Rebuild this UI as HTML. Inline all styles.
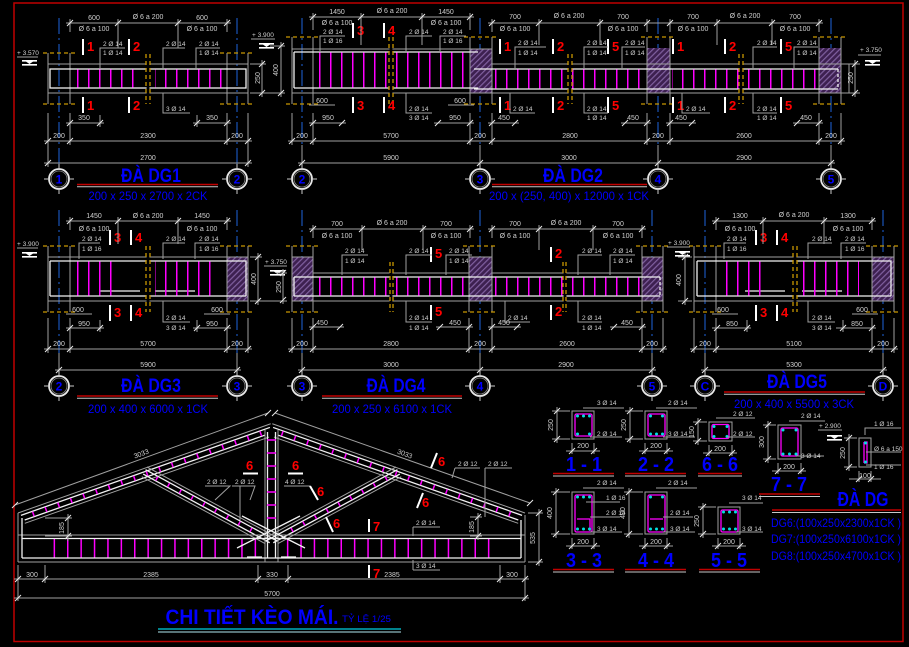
<!DOCTYPE html>
<html><head><meta charset="utf-8"><style>
html,body{margin:0;padding:0;background:#000}
svg{display:block}
svg text{font-family:"Liberation Sans",sans-serif}
.g{stroke:#a0a0a0;stroke-width:1;fill:none}
.w{stroke:#f2f2f2;stroke-width:1.3;fill:none}
.m{stroke:#ff00ff;stroke-width:1.4;fill:none}
.y{stroke:#c89600;stroke-width:1.3;stroke-dasharray:4 3;fill:none}
.ax{stroke:#1e64dc;stroke-width:1;stroke-dasharray:16 4 2 4;fill:none}
.tk{stroke:#e8e8e8;stroke-width:1;fill:none}
.sb{stroke:#fff;stroke-width:2;fill:none}
.d{fill:#d0d0d0;font-size:7px;text-anchor:middle}
.l{fill:#d0d0d0;font-size:6.5px}
.r{fill:#ff0000;font-size:13px;font-weight:bold}
.b{fill:#0000ff;font-weight:bold;text-anchor:middle}
.n{fill:#0000ff;font-size:12px;font-weight:bold;text-anchor:middle}
.s{fill:#0000ff;font-size:12px;text-anchor:middle}
.ru{stroke:#c00000;stroke-width:1.6}
.gu{stroke:#c8c8c8;stroke-width:1}
.pk{stroke:#ff00ff;stroke-width:1.3;fill:none}
.cy{fill:#00e0e0}
</style></head><body>
<svg width="909" height="647" viewBox="0 0 909 647" xmlns="http://www.w3.org/2000/svg">
<defs>
<pattern id="st" width="11" height="8" patternUnits="userSpaceOnUse"><rect width="1.5" height="8" fill="#ff00ff"/></pattern>
<pattern id="sc" width="13.4" height="8" patternUnits="userSpaceOnUse"><rect width="1.5" height="8" fill="#ff00ff"/></pattern>
<pattern id="hh" width="4" height="4" patternUnits="userSpaceOnUse" patternTransform="rotate(45)"><rect width="4" height="4" fill="#3d2050"/><rect width="1.2" height="4" fill="#8060a0"/></pattern>
<g id="ci"><circle r="10" fill="#000" stroke="#e8e8e8" stroke-width="1.8"/><circle r="8" fill="none" stroke="#888" stroke-width=".8"/><path stroke="#ccc" d="M-15 0h5M10 0h5M0 -15v5M0 10v5"/></g>
<g id="lv"><path fill="#fff" d="M0 0h15v1.6H0zM4 1.6h7l-3.5 2.4zM0 4h15v1.6H0z"/></g>
</defs>
<rect width="909" height="647" fill="#000"/>
<rect x="14" y="3" width="889" height="638.5" fill="none" stroke="#c00000" stroke-width="1.5"/>

<!-- ================= DG1 ================= -->
<path class="ax" d="M59 18V170M237 18V170"/>
<path class="g" d="M48 53V104M70 53V104M227 53V104M248 53V104M48 64H248M48 93H248"/>
<rect class="w" x="50" y="69" width="196" height="19"/>
<rect fill="url(#st)" x="72" y="69.5" width="70" height="18"/>
<rect fill="url(#st)" x="155" y="69.5" width="71" height="18"/>
<rect fill="#000" x="146.6" y="58" width="2.8" height="42"/>
<path class="y" d="M43 53H77M43 104H77M220 53H254M220 104H254M146 54V104M150 54V104"/>
<path class="sb" d="M83 39V55M83 97V113M129 39V55M129 97V113"/>
<text class="r" x="87" y="51">1</text><text class="r" x="87" y="110">1</text>
<text class="r" x="133" y="51">2</text><text class="r" x="133" y="110">2</text>
<path class="g" d="M66 23H231M70 19V32M118 19V48M178 19V48M227 19V32"/>
<path class="tk" d="M67 26l6-6M115 26l6-6M175 26l6-6M224 26l6-6"/>
<text class="d" x="94" y="20">600</text><text class="d" x="148" y="19">Ø 6 a 200</text><text class="d" x="202" y="20">600</text>
<text class="d" x="94" y="31">Ø 6 a 100</text><text class="d" x="202" y="31">Ø 6 a 100</text>
<path class="g" d="M100 68V48H125M163 68V48H185M196 68V48H220M163 93V113H190"/>
<text class="l" x="103" y="46">2 Ø 14</text><text class="l" x="103" y="55">1 Ø 14</text>
<text class="l" x="166" y="46">2 Ø 14</text>
<text class="l" x="199" y="46">2 Ø 14</text><text class="l" x="199" y="55">1 Ø 14</text>
<text class="l" x="166" y="111">3 Ø 14</text>
<text class="l" x="17" y="55">+ 3.570</text><path class="g" d="M17 57H38"/><use href="#lv" x="22" y="60"/>
<text class="l" x="252" y="37">+ 3.900</text><path class="g" d="M251 39H275"/><use href="#lv" x="259" y="43"/>
<path class="g" d="M262 60V97M281 42V97M250 64H266M250 93H285M270 46H285"/>
<path class="tk" d="M259 67l6-6M259 96l6-6M278 49l6-6M278 96l6-6"/>
<text class="d" transform="translate(260,78) rotate(-90)">250</text>
<text class="d" transform="translate(278,70) rotate(-90)">400</text>
<path class="g" d="M66 123H104M193 123H231M44 141H252M44 163H252M48 113V167M70 113V145M227 113V145M248 113V167M100 115V127M197 115V127"/>
<path class="tk" d="M67 126l6-6M97 126l6-6M194 126l6-6M224 126l6-6M45 144l6-6M67 144l6-6M224 144l6-6M245 144l6-6M45 166l6-6M245 166l6-6"/>
<text class="d" x="84" y="120">350</text><text class="d" x="212" y="120">350</text>
<text class="d" x="59" y="138">200</text><text class="d" x="148" y="138">2300</text><text class="d" x="237" y="138">200</text>
<text class="d" x="148" y="160">2700</text>
<use href="#ci" x="59" y="179"/><use href="#ci" x="237" y="179"/>
<text class="n" x="59" y="183.5">1</text><text class="n" x="237" y="183.5">2</text>
<text class="b" x="151" y="182" font-size="19" textLength="60" lengthAdjust="spacingAndGlyphs">ĐÀ DG1</text>
<path class="ru" d="M77 184.5H218"/><path class="gu" d="M77 186.7H218"/>
<text class="s" x="148" y="200" textLength="119" lengthAdjust="spacingAndGlyphs">200 x 250 x 2700 x 2CK</text>

<!-- ================= DG2 ================= -->
<path class="ax" d="M302 18V170M480 18V170M658 18V170M831 18V170"/>
<rect fill="url(#hh)" x="470" y="49" width="22" height="44"/>
<rect fill="url(#hh)" x="647" y="48" width="23" height="45"/>
<rect fill="url(#hh)" x="819" y="48" width="22" height="45"/>
<path class="g" d="M292 37V104M313 37V104M470 37V104M492 37V104M647 37V104M670 37V104M819 37V104M841 37V104M292 49H492M292 93H849M492 64H849M849 64V93"/>
<path class="w" d="M294 52H478M294 52V88M294 88H478M474 69H838M474 89H838"/>
<path class="w" stroke-dasharray="3 2" d="M838 69V89"/>
<rect fill="url(#st)" x="316" y="52.5" width="152" height="35"/>
<rect fill="url(#st)" x="493" y="69.5" width="152" height="19"/>
<rect fill="url(#st)" x="672" y="69.5" width="146" height="19"/>
<rect fill="#000" x="389.6" y="45" width="2.8" height="55"/>
<rect fill="#000" x="568.6" y="58" width="2.8" height="42"/>
<rect fill="#000" x="739.6" y="58" width="2.8" height="42"/>
<path class="y" d="M286 37H318M286 104H318M464 37H498M464 104H498M641 37H676M641 104H676M813 37H847M813 104H847M389 37V104M393 37V104M568 54V104M572 54V104M739 54V104M743 54V104"/>
<path class="sb" d="M353 23V38M353 97V113M384 23V38M384 97V113M500 39V54M500 97V113M553 39V54M553 97V113M608 39V54M608 97V113M673 39V54M673 97V113M725 39V54M725 97V113M781 39V54M781 97V113"/>
<text class="r" x="357" y="35">3</text><text class="r" x="357" y="110">3</text>
<text class="r" x="388" y="35">4</text><text class="r" x="388" y="110">4</text>
<text class="r" x="504" y="51">1</text><text class="r" x="504" y="110">1</text>
<text class="r" x="557" y="51">2</text><text class="r" x="557" y="110">2</text>
<text class="r" x="612" y="51">5</text><text class="r" x="612" y="110">5</text>
<text class="r" x="677" y="51">1</text><text class="r" x="677" y="110">1</text>
<text class="r" x="729" y="51">2</text><text class="r" x="729" y="110">2</text>
<text class="r" x="785" y="51">5</text><text class="r" x="785" y="110">5</text>
<path class="g" d="M309 17H474M313 13V30M361 13V45M422 13V45M470 13V30M488 23H823M492 19V32M539 19V45M600 19V45M647 19V32M670 19V32M717 19V45M772 19V45M819 19V32"/>
<path class="tk" d="M310 20l6-6M358 20l6-6M419 20l6-6M467 20l6-6M489 26l6-6M536 26l6-6M597 26l6-6M644 26l6-6M667 26l6-6M714 26l6-6M769 26l6-6M816 26l6-6"/>
<text class="d" x="337" y="14">1450</text><text class="d" x="392" y="13">Ø 6 a 200</text><text class="d" x="446" y="14">1450</text>
<text class="d" x="337" y="25">Ø 6 a 100</text><text class="d" x="446" y="25">Ø 6 a 100</text>
<text class="d" x="515" y="19">700</text><text class="d" x="569" y="18">Ø 6 a 200</text><text class="d" x="623" y="19">700</text>
<text class="d" x="693" y="19">700</text><text class="d" x="745" y="18">Ø 6 a 200</text><text class="d" x="795" y="19">700</text>
<text class="d" x="515" y="31">Ø 6 a 100</text><text class="d" x="623" y="31">Ø 6 a 100</text><text class="d" x="693" y="31">Ø 6 a 100</text><text class="d" x="795" y="31">Ø 6 a 100</text>
<path class="g" d="M320 51V36H345M406 51V36H432M440 51V36H466M515 68V47H546M584 68V47H608M622 68V47H645M753 68V47H777M794 68V47H818M406 93V113H432M510 93V113H535M584 93V113H608M682 93V113H710M753 93V113H777"/>
<text class="l" x="323" y="34">2 Ø 14</text><text class="l" x="323" y="43">1 Ø 16</text>
<text class="l" x="409" y="34">2 Ø 14</text>
<text class="l" x="443" y="34">2 Ø 14</text><text class="l" x="443" y="43">1 Ø 16</text>
<text class="l" x="518" y="45">2 Ø 14</text><text class="l" x="518" y="55">1 Ø 14</text>
<text class="l" x="587" y="45">2 Ø 14</text><text class="l" x="587" y="55">1 Ø 14</text>
<text class="l" x="625" y="45">2 Ø 14</text><text class="l" x="625" y="55">1 Ø 14</text>
<text class="l" x="757" y="45">2 Ø 14</text>
<text class="l" x="797" y="45">2 Ø 14</text><text class="l" x="797" y="55">1 Ø 14</text>
<text class="l" x="409" y="111">2 Ø 14</text><text class="l" x="409" y="120">3 Ø 14</text>
<text class="l" x="513" y="111">2 Ø 14</text>
<text class="l" x="587" y="111">2 Ø 14</text><text class="l" x="587" y="120">1 Ø 14</text>
<text class="l" x="686" y="111">2 Ø 14</text>
<text class="l" x="757" y="111">2 Ø 14</text><text class="l" x="757" y="120">1 Ø 14</text>
<path class="g" d="M309 105H335M448 105H474"/>
<text class="d" x="322" y="103">600</text><text class="d" x="460" y="103">600</text>
<path class="g" d="M309 123H346M434 123H474M488 123H519M621 123H651M666 123H696M793 123H823M288 141H845M298 163H835M292 113V145M313 113V145M470 113V145M492 113V145M647 113V145M670 113V145M819 113V145M841 113V145M302 145V167M480 145V167M658 145V167M831 145V167"/>
<path class="tk" d="M310 126l6-6M339 126l6-6M435 126l6-6M467 126l6-6M489 126l6-6M512 126l6-6M622 126l6-6M644 126l6-6M667 126l6-6M689 126l6-6M794 126l6-6M816 126l6-6M289 144l6-6M310 144l6-6M467 144l6-6M489 144l6-6M644 144l6-6M667 144l6-6M816 144l6-6M838 144l6-6M299 166l6-6M477 166l6-6M655 166l6-6M828 166l6-6"/>
<text class="d" x="328" y="120">950</text><text class="d" x="455" y="120">950</text><text class="d" x="504" y="120">450</text><text class="d" x="633" y="120">450</text><text class="d" x="681" y="120">450</text><text class="d" x="806" y="120">450</text>
<text class="d" x="302" y="138">200</text><text class="d" x="391" y="138">5700</text><text class="d" x="480" y="138">200</text><text class="d" x="570" y="138">2800</text><text class="d" x="658" y="138">200</text><text class="d" x="744" y="138">2600</text><text class="d" x="831" y="138">200</text>
<text class="d" x="391" y="160">5900</text><text class="d" x="569" y="160">3000</text><text class="d" x="744" y="160">2900</text>
<text class="l" x="860" y="52">+ 3.750</text><path class="g" d="M858 55H881"/><use href="#lv" x="865" y="60"/>
<path class="g" d="M855 60V97M845 64H860M845 93H860"/><path class="tk" d="M852 67l6-6M852 96l6-6"/>
<text class="d" transform="translate(853,78) rotate(-90)">250</text>
<use href="#ci" x="302" y="179"/><use href="#ci" x="480" y="179"/><use href="#ci" x="658" y="179"/><use href="#ci" x="831" y="179"/>
<text class="n" x="302" y="183.5">2</text><text class="n" x="480" y="183.5">3</text><text class="n" x="658" y="183.5">4</text><text class="n" x="831" y="183.5">5</text>
<text class="b" x="573" y="182" font-size="19" textLength="60" lengthAdjust="spacingAndGlyphs">ĐÀ DG2</text>
<path class="ru" d="M492 184.5H647"/><path class="gu" d="M492 186.7H647"/>
<text class="s" x="569" y="200" textLength="160" lengthAdjust="spacingAndGlyphs">200 x (250, 400) x 12000 x 1CK</text>

<!-- ================= DG3 ================= -->
<path class="ax" d="M59 210V377M237 210V377"/>
<rect fill="url(#hh)" x="227" y="257" width="21" height="44"/>
<path class="g" d="M48 246V312M70 246V312M227 246V312M248 246V312M48 257H248M48 301H248"/>
<path class="w" d="M50 261H246V296M50 261V296M50 296H246"/>
<path class="w" d="M100 291H140M155 291H195"/>
<rect fill="url(#st)" x="72" y="261.5" width="47" height="34"/>
<rect fill="url(#st)" x="155" y="261.5" width="58" height="34"/>
<rect fill="#000" x="146.6" y="252" width="2.8" height="55"/>
<path class="y" d="M43 246H77M43 312H77M220 246H254M220 312H254M146 246V312M150 246V312"/>
<path class="sb" d="M110 230V245M110 305V321M131 230V245M131 305V321"/>
<text class="r" x="114" y="242">3</text><text class="r" x="114" y="317">3</text>
<text class="r" x="135" y="242">4</text><text class="r" x="135" y="317">4</text>
<path class="g" d="M66 221H231M70 217V230M118 217V244M178 217V244M227 217V230"/>
<path class="tk" d="M67 224l6-6M115 224l6-6M175 224l6-6M224 224l6-6"/>
<text class="d" x="94" y="218">1450</text><text class="d" x="148" y="218">Ø 6 a 200</text><text class="d" x="202" y="218">1450</text>
<text class="d" x="94" y="231">Ø 6 a 100</text><text class="d" x="202" y="231">Ø 6 a 100</text>
<path class="g" d="M79 259V243H100M163 259V243H185M195 259V243H220M163 301V322H190"/>
<text class="l" x="82" y="241">2 Ø 14</text><text class="l" x="82" y="251">1 Ø 16</text>
<text class="l" x="166" y="241">2 Ø 14</text>
<text class="l" x="199" y="241">2 Ø 14</text><text class="l" x="199" y="251">1 Ø 16</text>
<text class="l" x="166" y="320">2 Ø 14</text><text class="l" x="166" y="330">3 Ø 14</text>
<text class="l" x="17" y="246">+ 3.900</text><path class="g" d="M17 248H38"/><use href="#lv" x="22" y="252"/>
<text class="l" x="265" y="264">+ 3.750</text><path class="g" d="M264 266H287"/><use href="#lv" x="270" y="270"/>
<path class="g" d="M258 253V305M283 269V304M250 257H262M250 301H287M276 273H287"/>
<path class="tk" d="M255 260l6-6M255 304l6-6M280 276l6-6M280 303l6-6"/>
<text class="d" transform="translate(256,279) rotate(-90)">400</text>
<text class="d" transform="translate(281,287) rotate(-90)">250</text>
<path class="g" d="M66 314H92M204 314H230"/>
<text class="d" x="78" y="312">600</text><text class="d" x="217" y="312">600</text>
<path class="g" d="M66 328H104M193 328H231M44 349H252M55 370H241M48 318V353M70 318V353M227 318V353M248 318V353M59 353V374M237 353V374M100 320V332M197 320V332"/>
<path class="tk" d="M67 331l6-6M97 331l6-6M194 331l6-6M224 331l6-6M45 352l6-6M67 352l6-6M224 352l6-6M245 352l6-6M56 373l6-6M234 373l6-6"/>
<text class="d" x="84" y="326">950</text><text class="d" x="212" y="326">950</text>
<text class="d" x="59" y="346">200</text><text class="d" x="148" y="346">5700</text><text class="d" x="237" y="346">200</text>
<text class="d" x="148" y="367">5900</text>
<use href="#ci" x="59" y="386"/><use href="#ci" x="237" y="386"/>
<text class="n" x="59" y="390.5">2</text><text class="n" x="237" y="390.5">3</text>
<text class="b" x="151" y="392" font-size="19" textLength="60" lengthAdjust="spacingAndGlyphs">ĐÀ DG3</text>
<path class="ru" d="M77 396H218"/><path class="gu" d="M77 398.2H218"/>
<text class="s" x="148" y="413" textLength="120" lengthAdjust="spacingAndGlyphs">200 x 400 x 6000 x 1CK</text>

<!-- ================= DG4 ================= -->
<path class="ax" d="M302 210V377M480 210V377M652 210V377"/>
<rect fill="url(#hh)" x="292" y="257" width="21" height="44"/>
<rect fill="url(#hh)" x="469" y="257" width="23" height="44"/>
<rect fill="url(#hh)" x="642" y="257" width="21" height="44"/>
<path class="g" d="M292 246V312M313 246V312M469 246V312M492 246V312M642 246V312M663 246V312M292 257H313M469 257H492M642 257H663M313 273H469M492 273H642M292 301H663"/>
<path class="w" d="M294 277H660M294 296H660M294 277V296"/>
<path class="w" stroke-dasharray="3 2" d="M660 277V296"/>
<rect fill="url(#st)" x="316" y="277.5" width="152" height="18"/>
<rect fill="url(#st)" x="493" y="277.5" width="148" height="18"/>
<rect fill="#000" x="389.6" y="262" width="2.8" height="45"/>
<rect fill="#000" x="563.6" y="262" width="2.8" height="45"/>
<path class="y" d="M286 246H318M286 312H318M463 246H498M463 312H498M636 246H669M636 312H669M390 262V312M393 262V312M563 262V312M566 262V312"/>
<path class="sb" d="M431 247V262M431 305V320M551 247V262M551 305V320"/>
<text class="r" x="435" y="258">5</text><text class="r" x="435" y="316">5</text>
<text class="r" x="555" y="258">2</text><text class="r" x="555" y="316">2</text>
<path class="g" d="M309 229H474M313 225V238M362 225V250M423 225V250M470 225V238M488 229H646M492 225V238M539 225V250M593 225V250M642 225V238"/>
<path class="tk" d="M310 232l6-6M359 232l6-6M420 232l6-6M467 232l6-6M489 232l6-6M536 232l6-6M590 232l6-6M639 232l6-6"/>
<text class="d" x="337" y="226">700</text><text class="d" x="392" y="225">Ø 6 a 200</text><text class="d" x="446" y="226">700</text>
<text class="d" x="515" y="226">700</text><text class="d" x="566" y="225">Ø 6 a 200</text><text class="d" x="618" y="226">700</text>
<text class="d" x="337" y="238">Ø 6 a 100</text><text class="d" x="446" y="238">Ø 6 a 100</text><text class="d" x="515" y="238">Ø 6 a 100</text><text class="d" x="618" y="238">Ø 6 a 100</text>
<path class="g" d="M342 275V255H368M406 275V255H432M446 275V255H472M578 275V255H602M610 275V255H635M406 301V322H432M505 301V322H530M578 301V322H602"/>
<text class="l" x="345" y="253">2 Ø 14</text><text class="l" x="345" y="263">1 Ø 14</text>
<text class="l" x="409" y="253">2 Ø 14</text>
<text class="l" x="449" y="253">2 Ø 14</text><text class="l" x="449" y="263">1 Ø 14</text>
<text class="l" x="582" y="253">2 Ø 14</text>
<text class="l" x="613" y="253">2 Ø 14</text><text class="l" x="613" y="263">1 Ø 14</text>
<text class="l" x="409" y="320">2 Ø 14</text><text class="l" x="409" y="330">1 Ø 14</text>
<text class="l" x="508" y="320">2 Ø 14</text>
<text class="l" x="582" y="320">2 Ø 14</text><text class="l" x="582" y="330">1 Ø 14</text>
<path class="g" d="M309 327H344M436 327H473M488 327H521M610 327H646M288 349H667M298 370H656M292 318V353M313 318V353M469 318V353M492 318V353M642 318V353M663 318V353M302 353V374M480 353V374M652 353V374"/>
<path class="tk" d="M310 330l6-6M337 330l6-6M437 330l6-6M466 330l6-6M489 330l6-6M514 330l6-6M611 330l6-6M639 330l6-6M289 352l6-6M310 352l6-6M466 352l6-6M489 352l6-6M639 352l6-6M660 352l6-6M299 373l6-6M477 373l6-6M649 373l6-6"/>
<text class="d" x="322" y="325">450</text><text class="d" x="455" y="325">450</text><text class="d" x="504" y="325">450</text><text class="d" x="627" y="325">450</text>
<text class="d" x="302" y="346">200</text><text class="d" x="391" y="346">2800</text><text class="d" x="480" y="346">200</text><text class="d" x="567" y="346">2600</text><text class="d" x="652" y="346">200</text>
<text class="d" x="391" y="367">3000</text><text class="d" x="566" y="367">2900</text>
<use href="#ci" x="302" y="386"/><use href="#ci" x="480" y="386"/><use href="#ci" x="652" y="386"/>
<text class="n" x="302" y="390.5">3</text><text class="n" x="480" y="390.5">4</text><text class="n" x="652" y="390.5">5</text>
<text class="b" x="396" y="392" font-size="19" textLength="59" lengthAdjust="spacingAndGlyphs">ĐÀ DG4</text>
<path class="ru" d="M322 396H462"/><path class="gu" d="M322 398.2H462"/>
<text class="s" x="392" y="413" textLength="120" lengthAdjust="spacingAndGlyphs">200 x 250 x 6100 x 1CK</text>

<!-- ================= DG5 ================= -->
<path class="ax" d="M705 210V377M883 210V377"/>
<rect fill="url(#hh)" x="872" y="257" width="22" height="44"/>
<path class="g" d="M694 246V312M716 246V312M872 246V312M894 246V312M694 257H894M694 301H894"/>
<path class="w" d="M697 261H891V296M697 261V296M697 296H891"/>
<path class="w" d="M745 291H785M802 291H842"/>
<rect fill="url(#st)" x="718" y="261.5" width="48" height="34"/>
<rect fill="url(#st)" x="800" y="261.5" width="59" height="34"/>
<rect fill="#000" x="793.6" y="252" width="2.8" height="55"/>
<path class="y" d="M689 246H722M689 312H722M866 246H901M866 312H901M793 246V312M797 246V312"/>
<path class="sb" d="M756 230V245M756 305V321M777 230V245M777 305V321"/>
<text class="r" x="760" y="242">3</text><text class="r" x="760" y="317">3</text>
<text class="r" x="781" y="242">4</text><text class="r" x="781" y="317">4</text>
<path class="g" d="M712 221H876M716 217V230M763 217V244M824 217V244M872 217V230"/>
<path class="tk" d="M713 224l6-6M760 224l6-6M821 224l6-6M869 224l6-6"/>
<text class="d" x="740" y="218">1300</text><text class="d" x="794" y="217">Ø 6 a 200</text><text class="d" x="848" y="218">1300</text>
<text class="d" x="740" y="231">Ø 6 a 100</text><text class="d" x="848" y="231">Ø 6 a 100</text>
<path class="g" d="M724 259V243H746M808 259V243H832M841 259V243H866M808 301V322H835"/>
<text class="l" x="727" y="241">2 Ø 14</text><text class="l" x="727" y="251">1 Ø 16</text>
<text class="l" x="812" y="241">2 Ø 14</text>
<text class="l" x="845" y="241">2 Ø 14</text><text class="l" x="845" y="251">1 Ø 16</text>
<text class="l" x="812" y="320">2 Ø 14</text><text class="l" x="812" y="330">3 Ø 14</text>
<text class="l" x="668" y="245">+ 3.900</text><path class="g" d="M667 247H690"/><use href="#lv" x="675" y="251"/>
<path class="g" d="M685 253V305M678 257H692M678 301H692"/><path class="tk" d="M682 260l6-6M682 304l6-6"/>
<text class="d" transform="translate(681,280) rotate(-90)">400</text>
<path class="g" d="M712 314H738M852 314H878"/>
<text class="d" x="723" y="312">600</text><text class="d" x="862" y="312">600</text>
<path class="g" d="M712 328H751M836 328H876M690 349H898M701 370H887M694 318V353M716 318V353M872 318V353M894 318V353M705 353V374M883 353V374M747 320V332M843 320V332"/>
<path class="tk" d="M714 331l6-6M744 331l6-6M840 331l6-6M869 331l6-6M691 352l6-6M713 352l6-6M869 352l6-6M891 352l6-6M702 373l6-6M880 373l6-6"/>
<text class="d" x="732" y="326">850</text><text class="d" x="857" y="326">850</text>
<text class="d" x="705" y="346">200</text><text class="d" x="794" y="346">5100</text><text class="d" x="883" y="346">200</text>
<text class="d" x="794" y="367">5300</text>
<use href="#ci" x="705" y="386"/><use href="#ci" x="883" y="386"/>
<text class="n" x="705" y="390.5">C</text><text class="n" x="883" y="390.5">D</text>
<text class="b" x="797" y="388" font-size="19" textLength="60" lengthAdjust="spacingAndGlyphs">ĐÀ DG5</text>
<path class="ru" d="M724 392H865"/><path class="gu" d="M724 394.2H865"/>
<text class="s" x="794" y="408" textLength="120" lengthAdjust="spacingAndGlyphs">200 x 400 x 5500 x 3CK</text>

<!-- ================= TRUSS ================= -->
<g id="halfT">
  <g transform="translate(18,513) rotate(-19.45)">
    <path class="g" d="M0 0H268M3 12H262"/>
    <path class="w" d="M2 3.2H266M4 8.8H259"/>
    <rect x="10" y="3.5" width="248" height="5" fill="url(#sc)"/>
  </g>
  <g transform="translate(147,467) rotate(28.5)">
    <path class="g" d="M0 0H152M0 11H140"/>
    <path class="w" d="M0 3H150M0 8H144"/>
    <rect x="8" y="3.5" width="125" height="4.2" fill="url(#sc)"/>
  </g>
  <rect x="44" y="539" width="216" height="19" fill="url(#sc)"/>
</g>
<use href="#halfT" transform="translate(543,0) scale(-1,1)"/>
<path class="g" d="M18 513V562M525 515V562M18 535H525M18 562H525M265 430V562M278 430V562"/>
<path class="w" d="M22 518V558M521 520V558M22 538.5H521M22 558H521M267.5 432V558M275.5 432V558"/>
<path class="m" d="M267 440H276M267 453H276M267 466H276M267 479H276M267 492H276M267 505H276M267 518H276"/>
<path class="w" stroke-width="1" d="M237 548L300 516M305 548L242 516M247 557H262M281 557H296"/>
<path class="g" d="M15 505L268 413M275 413L530 503"/>
<path class="tk" d="M12 508l6-6M265 416l6-6M272 416l6-6M527 506l6-6"/>
<text class="d" transform="translate(142,456) rotate(-20)">3033</text>
<text class="d" transform="translate(404,456) rotate(20)">3033</text>
<path class="g" d="M45 518H72M68 514V541M45 536H72M470 517H482M478 513V540M470 536H482M528 513H543M528 562H543M539 509V566"/>
<path class="tk" d="M65 521l6-6M65 539l6-6M475 520l6-6M475 539l6-6M536 516l6-6M536 565l6-6"/>
<text class="d" transform="translate(64,528) rotate(-90)">185</text>
<text class="d" transform="translate(474,527) rotate(-90)">185</text>
<text class="d" transform="translate(535,538) rotate(-90)">535</text>
<path class="g" d="M14 579H529M14 598H529M18 565V601M45 565V583M258 565V583M288 565V583M500 565V583M525 565V601"/>
<path class="tk" d="M15 582l6-6M42 582l6-6M255 582l6-6M285 582l6-6M497 582l6-6M522 582l6-6M15 601l6-6M522 601l6-6"/>
<text class="d" x="32" y="577">300</text><text class="d" x="151" y="577">2385</text><text class="d" x="272" y="577">330</text><text class="d" x="392" y="577">2385</text><text class="d" x="512" y="577">300</text>
<text class="d" x="272" y="596">5700</text>
<text class="r" x="246" y="470">6</text><path class="sb" stroke-width="1.3" d="M243 473.5H258"/>
<text class="r" x="292" y="470">6</text><path class="sb" stroke-width="1.3" d="M288 473.5H303"/>
<path class="g" d="M205 486H230L215 500M232 486H255L250 500M284 486H310M240 486V520"/>
<text class="l" x="207" y="484">2 Ø 12</text><text class="l" x="235" y="484">2 Ø 12</text><text class="l" x="285" y="484">4 Ø 12</text>
<path class="sb" stroke-width="1.6" d="M310 486L318 500M326 517L333 532M437 453L431 468M423 493L417 508M369 519V532M369 565V578"/>
<text class="r" x="317" y="496">6</text><text class="r" x="333" y="528">6</text><text class="r" x="438" y="466">6</text><text class="r" x="422" y="507">6</text>
<text class="r" x="373" y="531">7</text><text class="r" x="373" y="578">7</text>
<path class="g" d="M455 468H480M455 468L452 478M485 468H512M485 468V517M413 527H440M413 527V536M413 570H440M413 570V560"/>
<text class="l" x="458" y="466">2 Ø 12</text><text class="l" x="488" y="466">2 Ø 12</text>
<text class="l" x="416" y="525">2 Ø 14</text><text class="l" x="416" y="568">3 Ø 14</text>
<text class="b" x="252" y="624" font-size="21" textLength="173" lengthAdjust="spacingAndGlyphs">CHI TIẾT KÈO MÁI.</text>
<text fill="#0000ff" font-size="9" x="342" y="622" textLength="49" lengthAdjust="spacingAndGlyphs">TỶ LỆ 1/25</text>
<path stroke="#00d0e0" stroke-width="1.3" d="M158 629H401"/><path stroke="#b0e8f0" stroke-width="1" d="M158 632H401"/>

<!-- ================= SECTIONS ================= -->
<!-- 1-1 -->
<rect class="g" x="572" y="411" width="22" height="28"/>
<rect class="pk" x="575" y="414" width="17" height="22" rx="1.5"/>
<g class="cy"><circle cx="577.5" cy="416" r="1.5"/><circle cx="583.5" cy="416" r="1.5"/><circle cx="589.5" cy="416" r="1.5"/><circle cx="577.5" cy="434" r="1.5"/><circle cx="589.5" cy="434" r="1.5"/></g>
<path class="g" d="M583 408H624M590 437H622M557 407V443M552 411H570M552 439H570M566 451H600M572 443V454M594 443V454"/>
<path class="tk" d="M554 414l6-6M554 442l6-6M569 454l6-6M591 454l6-6"/>
<text class="l" x="597" y="405">3 Ø 14</text><text class="l" x="597" y="436">2 Ø 14</text>
<text class="d" transform="translate(553,425) rotate(-90)">250</text><text class="d" x="583" y="448">200</text>
<text class="b" x="584" y="471" font-size="20" textLength="36" lengthAdjust="spacingAndGlyphs">1 - 1</text>
<path class="ru" d="M553 473.5H614"/><path class="gu" d="M553 476H614"/>
<!-- 2-2 -->
<rect class="g" x="645" y="411" width="22" height="28"/>
<rect class="pk" x="648" y="414" width="17" height="22" rx="1.5"/>
<g class="cy"><circle cx="650.5" cy="416" r="1.5"/><circle cx="662.5" cy="416" r="1.5"/><circle cx="650.5" cy="434" r="1.5"/><circle cx="656.5" cy="434" r="1.5"/><circle cx="662.5" cy="434" r="1.5"/></g>
<path class="g" d="M656 408H697M663 437H695M630 407V443M625 411H643M625 439H643M639 451H673M645 443V454M667 443V454"/>
<path class="tk" d="M627 414l6-6M627 442l6-6M642 454l6-6M664 454l6-6"/>
<text class="l" x="668" y="405">2 Ø 14</text><text class="l" x="668" y="436">3 Ø 14</text>
<text class="d" transform="translate(626,425) rotate(-90)">250</text><text class="d" x="656" y="448">200</text>
<text class="b" x="656" y="471" font-size="20" textLength="36" lengthAdjust="spacingAndGlyphs">2 - 2</text>
<path class="ru" d="M625 473.5H686"/><path class="gu" d="M625 476H686"/>
<!-- 6-6 -->
<rect class="g" x="709" y="422" width="23" height="19"/>
<rect class="pk" x="712" y="424.5" width="17" height="14" rx="1.5"/>
<g class="cy"><circle cx="714" cy="426.5" r="1.5"/><circle cx="727" cy="426.5" r="1.5"/><circle cx="714" cy="436.5" r="1.5"/><circle cx="727" cy="436.5" r="1.5"/></g>
<path class="g" d="M716 418H755M727 437H755M698 418V445M693 422H707M693 441H707M703 453H737M709 445V456M732 445V456"/>
<path class="tk" d="M695 425l6-6M695 444l6-6M706 456l6-6M729 456l6-6"/>
<text class="l" x="733" y="416">2 Ø 12</text><text class="l" x="733" y="436">2 Ø 12</text>
<text class="d" transform="translate(694,432) rotate(-90)">150</text><text class="d" x="720" y="451">200</text>
<text class="b" x="720" y="471" font-size="20" textLength="36" lengthAdjust="spacingAndGlyphs">6 - 6</text>
<path class="ru" d="M698 473.5H742"/><path class="gu" d="M698 476H742"/>
<!-- 7-7 -->
<rect class="g" x="778" y="425" width="23" height="34"/>
<rect class="pk" x="781" y="428" width="17" height="28" rx="1.5"/>
<g class="cy"><circle cx="783" cy="430" r="1.5"/><circle cx="796" cy="430" r="1.5"/><circle cx="783" cy="454" r="1.5"/><circle cx="789.5" cy="454" r="1.5"/><circle cx="796" cy="454" r="1.5"/></g>
<path class="g" d="M789 421H825M796 456H824M768 421V463M763 425H776M763 459H776M772 471H806M778 463V474M801 463V474"/>
<path class="tk" d="M765 428l6-6M765 462l6-6M775 474l6-6M798 474l6-6"/>
<text class="l" x="801" y="418">2 Ø 14</text><text class="l" x="801" y="458">3 Ø 14</text>
<text class="d" transform="translate(764,442) rotate(-90)">300</text><text class="d" x="789" y="469">200</text>
<text class="b" x="789" y="491" font-size="20" textLength="36" lengthAdjust="spacingAndGlyphs">7 - 7</text>
<path class="ru" d="M759 494H820"/><path class="gu" d="M759 496.5H820"/>
<!-- level 2.900 -->
<text class="l" x="819" y="428">+ 2.900</text><path class="g" d="M818 430H842"/><use href="#lv" x="827" y="435"/>
<!-- DG small -->
<rect class="g" x="859" y="438" width="12" height="29"/>
<path class="pk" d="M864 442V463M864 442H867V463H864"/>
<g class="cy"><circle cx="865.5" cy="443" r="1.5"/><circle cx="865.5" cy="462" r="1.5"/></g>
<path class="g" d="M865 435V428H901M866 452H901M866 465H901M849 434V471M844 438H857M844 467H857M849 479H881M859 471V482M871 471V482"/>
<path class="tk" d="M846 441l6-6M846 470l6-6M856 482l6-6M868 482l6-6"/>
<text class="l" x="874" y="426">1 Ø 16</text><text class="l" x="874" y="451">Ø 6 a 150</text><text class="l" x="874" y="469">1 Ø 16</text>
<text class="d" transform="translate(845,453) rotate(-90)">250</text><text class="d" x="865" y="478">100</text>
<text class="b" x="863" y="506" font-size="20" textLength="51" lengthAdjust="spacingAndGlyphs">ĐÀ DG</text>
<path class="ru" d="M772 510H901"/><path class="gu" d="M772 512.5H901"/>
<text fill="#0000ff" font-size="12" x="771" y="527" textLength="130" lengthAdjust="spacingAndGlyphs">DG6:(100x250x2300x1CK )</text>
<text fill="#0000ff" font-size="12" x="771" y="543" textLength="130" lengthAdjust="spacingAndGlyphs">DG7:(100x250x6100x1CK )</text>
<text fill="#0000ff" font-size="12" x="771" y="560" textLength="130" lengthAdjust="spacingAndGlyphs">DG8:(100x250x4700x1CK )</text>
<!-- 3-3 -->
<rect class="g" x="572" y="492" width="22" height="42"/>
<rect class="pk" x="575" y="495" width="17" height="37" rx="1.5"/>
<path class="pk" d="M577 519H590V531"/>
<g class="cy"><circle cx="577.5" cy="497" r="1.5"/><circle cx="583.5" cy="497" r="1.5"/><circle cx="589.5" cy="497" r="1.5"/><circle cx="577.5" cy="529" r="1.5"/><circle cx="583.5" cy="529" r="1.5"/><circle cx="589.5" cy="529" r="1.5"/></g>
<path class="g" d="M583 488H624M586 502H620M590 517H620M590 532H622M556 488V538M551 492H570M551 534H570M566 546H600M572 538V549M594 538V549"/>
<path class="tk" d="M553 495l6-6M553 537l6-6M569 549l6-6M591 549l6-6"/>
<text class="l" x="597" y="485">2 Ø 14</text><text class="l" x="606" y="500">1 Ø 16</text><text class="l" x="606" y="515">2 Ø 14</text><text class="l" x="597" y="531">3 Ø 14</text>
<text class="d" transform="translate(552,513) rotate(-90)">400</text><text class="d" x="583" y="544">200</text>
<text class="b" x="584" y="567" font-size="20" textLength="36" lengthAdjust="spacingAndGlyphs">3 - 3</text>
<path class="ru" d="M553 569.5H614"/><path class="gu" d="M553 572H614"/>
<!-- 4-4 -->
<rect class="g" x="645" y="492" width="22" height="42"/>
<rect class="pk" x="648" y="495" width="17" height="37" rx="1.5"/>
<path class="pk" d="M650 519H663"/>
<g class="cy"><circle cx="650.5" cy="497" r="1.5"/><circle cx="662.5" cy="497" r="1.5"/><circle cx="650.5" cy="529" r="1.5"/><circle cx="656.5" cy="529" r="1.5"/><circle cx="662.5" cy="529" r="1.5"/></g>
<path class="g" d="M656 488H697M663 517H693M663 532H695M629 488V538M624 492H643M624 534H643M639 546H673M645 538V549M667 538V549"/>
<path class="tk" d="M626 495l6-6M626 537l6-6M642 549l6-6M664 549l6-6"/>
<text class="l" x="668" y="485">2 Ø 14</text><text class="l" x="670" y="515">2 Ø 14</text><text class="l" x="670" y="531">3 Ø 14</text>
<text class="d" transform="translate(625,513) rotate(-90)">400</text><text class="d" x="656" y="544">200</text>
<text class="b" x="656" y="567" font-size="20" textLength="36" lengthAdjust="spacingAndGlyphs">4 - 4</text>
<path class="ru" d="M625 569.5H686"/><path class="gu" d="M625 572H686"/>
<!-- 5-5 -->
<rect class="g" x="718" y="507" width="22" height="27"/>
<rect class="pk" x="721" y="510" width="17" height="22" rx="1.5"/>
<g class="cy"><circle cx="723.5" cy="512" r="1.5"/><circle cx="729.5" cy="512" r="1.5"/><circle cx="735.5" cy="512" r="1.5"/><circle cx="723.5" cy="529" r="1.5"/><circle cx="729.5" cy="529" r="1.5"/><circle cx="735.5" cy="529" r="1.5"/></g>
<path class="g" d="M729 503H763M736 532H763M703 503V538M698 507H716M698 534H716M712 546H746M718 538V549M740 538V549"/>
<path class="tk" d="M700 510l6-6M700 537l6-6M715 549l6-6M737 549l6-6"/>
<text class="l" x="742" y="500">3 Ø 14</text><text class="l" x="742" y="531">3 Ø 14</text>
<text class="d" transform="translate(699,521) rotate(-90)">250</text><text class="d" x="729" y="544">200</text>
<text class="b" x="729" y="567" font-size="20" textLength="36" lengthAdjust="spacingAndGlyphs">5 - 5</text>
<path class="ru" d="M699 569.5H760"/><path class="gu" d="M699 572H760"/>
</svg>
</body></html>
